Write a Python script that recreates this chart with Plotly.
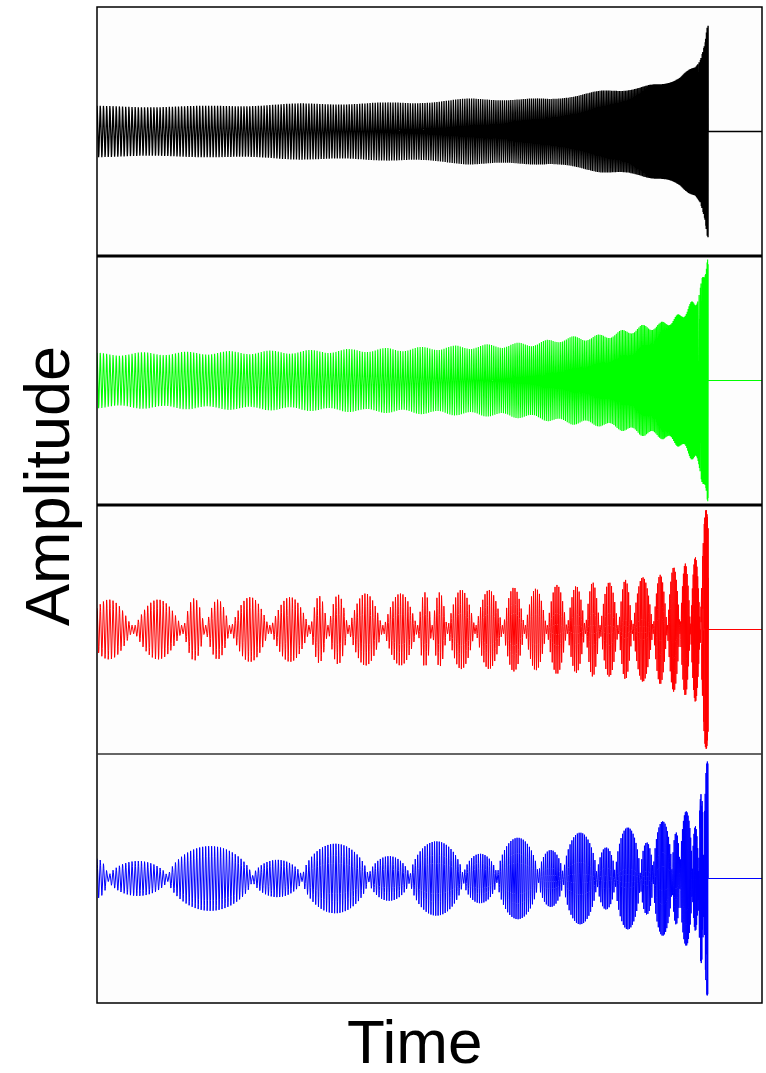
import numpy as np
import plotly.graph_objects as go
from plotly.subplots import make_subplots

# ---------------- data ----------------
# time axis: 0 = start of plotted signal, 1 = merger
x_max = 1.088

# chirp carrier (cycles per unit time at start)
f_start = 190.0
pts_per_cycle = 24

# black panel: envelope keypoints
black_t = [0, 0.169, 0.332, 0.512, 0.610, 0.741, 0.823, 0.889, 0.921, 0.954, 0.979, 0.987, 0.995, 0.998, 1.0]
black_a = [0.20, 0.20, 0.22, 0.23, 0.26, 0.26, 0.32, 0.35, 0.38, 0.43, 0.52, 0.59, 0.71, 0.81, 0.83]
black_mod = 0.03

# green panel: envelope keypoints
green_t = [0, 0.169, 0.332, 0.496, 0.660, 0.725, 0.758, 0.823, 0.856, 0.889, 0.921, 0.954, 0.979, 0.987, 0.995, 1.0]
green_a = [0.21, 0.22, 0.23, 0.25, 0.28, 0.30, 0.33, 0.35, 0.38, 0.42, 0.44, 0.51, 0.63, 0.71, 0.90, 0.92]
green_mod = 0.06

# red panel: beat nodes and lobe peaks
red_nodes = [-0.020, 0.059, 0.141, 0.177, 0.218, 0.283, 0.349, 0.378, 0.411, 0.468, 0.525, 0.548,
             0.573, 0.619, 0.664, 0.700, 0.736, 0.769, 0.799, 0.823, 0.853, 0.876, 0.910, 0.933,
             0.954, 0.971, 0.987, 1.006]
red_peaks = [0.24, 0.24, 0.25, 0.24, 0.26, 0.26, 0.27, 0.28, 0.29, 0.29, 0.30, 0.30, 0.32, 0.32,
             0.34, 0.33, 0.36, 0.35, 0.38, 0.38, 0.40, 0.42, 0.44, 0.50, 0.53, 0.58, 0.96]

# blue panel: beat nodes and lobe peaks
blue_nodes = [-0.020, 0.018, 0.116, 0.254, 0.336, 0.444, 0.512, 0.599, 0.655, 0.722, 0.763, 0.818,
              0.848, 0.889, 0.910, 0.941, 0.954, 0.974, 0.984, 0.993, 1.004]
blue_peaks = [0.16, 0.14, 0.26, 0.15, 0.28, 0.18, 0.30, 0.20, 0.33, 0.23, 0.37, 0.25, 0.41, 0.29,
              0.46, 0.37, 0.54, 0.42, 0.68, 0.94]

colors = ["#000000", "#00ff00", "#ff0000", "#0000ff"]
widths = [1.3, 1.1, 1.0, 1.0]

# ---------------- build traces ----------------
n_cycles = f_start / (5.0 / 8.0)
phi_end = 2 * np.pi * n_cycles
phi = np.linspace(0, phi_end, int(n_cycles * pts_per_cycle))
t = 1 - np.clip(1 - phi / phi_end, 0, None) ** (8.0 / 5.0)
carrier = np.cos(phi)


def lobe_env(nodes, peaks, power, floor):
    env = np.full_like(t, floor)
    for i in range(len(peaks)):
        a, b = nodes[i], nodes[i + 1]
        m = (t >= a) & (t <= b)
        env[m] = np.maximum(env[m], peaks[i] * np.sin(np.pi * (t[m] - a) / (b - a)) ** power)
    return env


env_black = np.interp(t, black_t, black_a) * (1 + black_mod * np.cos(phi * 0.03))
env_green = np.interp(t, green_t, green_a) * (1 + green_mod * np.cos(phi * 0.07))
env_red = lobe_env(red_nodes, red_peaks, 1.0, 0.035)
env_blue = lobe_env(blue_nodes, blue_peaks, 0.55, 0.025)

signals = [env_black * carrier, env_green * carrier, env_red * carrier, env_blue * carrier]

fig = make_subplots(rows=4, cols=1, shared_xaxes=True, vertical_spacing=0)
for i, (sig, col) in enumerate(zip(signals, colors)):
    xs = np.concatenate([t, [1.0, x_max]])
    ys = np.concatenate([sig, [0.0, 0.0]])
    fig.add_trace(go.Scatter(x=xs, y=ys, mode="lines", line=dict(color=col, width=widths[i]),
                             showlegend=False, hoverinfo="skip"), row=i + 1, col=1)
    fig.update_yaxes(range=[-1, 1], showticklabels=False, showgrid=False, zeroline=False,
                     ticks="", row=i + 1, col=1)
    fig.update_xaxes(range=[0, x_max], showticklabels=False, showgrid=False, zeroline=False,
                     ticks="", row=i + 1, col=1)

shapes = [
    dict(type="rect", xref="paper", yref="paper", x0=0, x1=1, y0=0, y1=1,
         line=dict(color="black", width=1.5)),
    dict(type="line", xref="paper", yref="paper", x0=0, x1=1, y0=0.75, y1=0.75,
         line=dict(color="black", width=3)),
    dict(type="line", xref="paper", yref="paper", x0=0, x1=1, y0=0.5, y1=0.5,
         line=dict(color="black", width=3)),
    dict(type="line", xref="paper", yref="paper", x0=0, x1=1, y0=0.25, y1=0.25,
         line=dict(color="#333333", width=1.5)),
]

fig.update_layout(
    width=766, height=1073,
    margin=dict(l=97, r=4, t=7, b=70),
    paper_bgcolor="white", plot_bgcolor="#fdfdfd",
    shapes=shapes,
    font=dict(family="Liberation Sans, Arial, sans-serif", color="black"),
    annotations=[
        dict(text="Amplitude", xref="paper", yref="paper", x=-0.0752, y=0.519,
             textangle=-90, showarrow=False, font=dict(size=63), xanchor="center", yanchor="middle"),
        dict(text="Time", xref="paper", yref="paper", x=0.478, y=-0.0382, borderpad=0,
             showarrow=False, font=dict(size=62), xanchor="center", yanchor="middle"),
    ],
)

fig.write_html("out.html")
